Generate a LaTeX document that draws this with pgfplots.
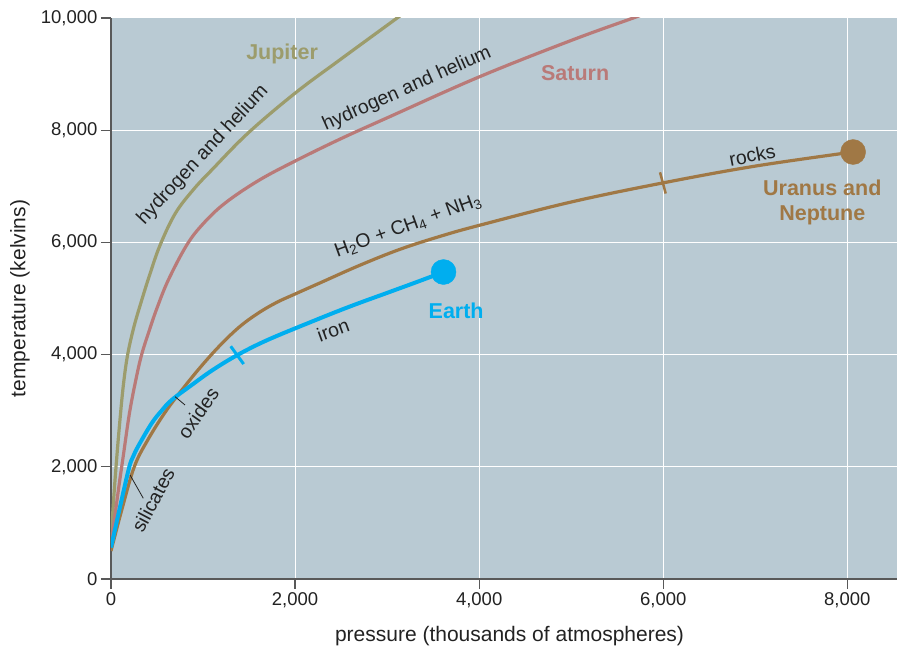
\documentclass[border=0pt]{standalone}
\usepackage{fontspec}
\setmainfont{Liberation Sans}
\usepackage{pgfplots}
\pgfplotsset{compat=1.18}
\definecolor{bgc}{HTML}{B9CAD3}
\definecolor{jup}{HTML}{9C9C6C}
\definecolor{sat}{HTML}{B97A78}
\definecolor{ura}{HTML}{A07845}
\definecolor{ear}{HTML}{00AEEF}
\definecolor{txt}{HTML}{222222}
\begin{document}
\begin{tikzpicture}
\path (-111pt,-71pt) rectangle (791pt,579pt);
\begin{axis}[
 at={(0,0)}, anchor=south west,
 scale only axis, width=786pt, height=561pt,
 xmin=0, xmax=8540, ymin=0, ymax=10000,
 axis x line*=bottom, axis y line*=left,
 axis line style={-, draw=black!65, line width=1.2pt},
 xtick={0,2000,4000,6000,8000}, ytick={0,2000,4000,6000,8000,10000},
 tick align=outside, major tick length=10pt,
 tick style={draw=black!65, line width=1.2pt},
 grid=major, major grid style={white, line width=1pt},
 axis background/.style={fill=bgc},
 /pgf/number format/assume math mode=true,
 /pgf/number format/1000 sep={,},
 scaled ticks=false,
 ticklabel style={font=\fontsize{18.5}{20}\selectfont, text=txt},
 every axis x label/.style={at={(axis description cs:0.507,-0.1016)}, anchor=center},
 every axis y label/.style={at={(axis description cs:-0.1158,0.5)}, rotate=90, anchor=center},
 label style={font=\fontsize{21}{24}\selectfont, text=txt},
 xlabel={pressure (thousands of atmospheres)},
 ylabel={temperature (kelvins)},
]
% Jupiter
\addplot[jup, line width=3.2pt, smooth, tension=0.6] coordinates {
 (0,600)(20,1200)(50,1900)(90,2700)(134,3450)(181,4000)(250,4500)(330,4950)(420,5420)(533,5950)(700,6520)(900,6950)(1100,7300)(1490,7950)(2000,8660)(2500,9270)(3109,10000)(3200,10110)};
% Saturn
\addplot[sat, line width=3.2pt, smooth, tension=0.6] coordinates {
 (0,640)(40,1100)(90,1700)(134,2200)(200,2950)(270,3550)(333,4000)(420,4450)(500,4830)(623,5330)(822,5950)(1000,6330)(1239,6700)(1600,7100)(2000,7450)(2500,7850)(3000,8220)(4000,8950)(5000,9600)(5674,10000)(5800,10075)};
% Uranus and Neptune
\addplot[ura, line width=3.2pt, smooth, tension=0.6] coordinates {
 (0,500)(120,1250)(253,2000)(400,2480)(600,3000)(804,3440)(1000,3830)(1200,4190)(1400,4500)(1600,4740)(1800,4930)(2000,5080)(2274,5280)(2700,5590)(3145,5880)(3600,6120)(4015,6310)(5000,6720)(5996,7060)(7000,7360)(8063,7611)};
% Earth
\addplot[ear, line width=4pt, smooth, tension=0.6] coordinates {
 (0,560)(100,1300)(196,1980)(240,2180)(300,2380)(442,2775)(550,3000)(659,3190)(877,3458)(1100,3720)(1371,3990)(1700,4260)(2200,4600)(2600,4860)(3000,5100)(3300,5280)(3613,5472)};
% end dots
\addplot[only marks, mark=*, mark size=12.5pt, ura, mark options={draw=none, fill=ura}] coordinates {(8063,7611)};
\addplot[only marks, mark=*, mark size=12.5pt, ear, mark options={draw=none, fill=ear}] coordinates {(3613,5472)};
% transition ticks
\addplot[only marks, mark=|, mark size=11pt, ura, mark options={rotate=15, line width=2.5pt}] coordinates {(5996,7060)};
\addplot[only marks, mark=|, mark size=11pt, ear, mark options={rotate=36, line width=3pt}] coordinates {(1371,3990)};
% leader lines
\addplot[txt, line width=0.8pt] coordinates {(207,1854)(351,1438)};
\addplot[txt, line width=0.8pt] coordinates {(696,3250)(804,3102)};
% labels
\node[font=\bfseries\fontsize{21.5}{24}\selectfont, text=jup] at (axis cs:1859,9358) {Jupiter};
\node[font=\bfseries\fontsize{21.5}{24}\selectfont, text=sat] at (axis cs:5043,9020) {Saturn};
\node[font=\bfseries\fontsize{21.5}{25}\selectfont, text=ura, align=center] at (axis cs:7728,6720) {Uranus and\\Neptune};
\node[font=\bfseries\fontsize{21.5}{24}\selectfont, text=ear] at (axis cs:3750,4777) {Earth};
\node[font=\fontsize{19.5}{22}\selectfont, text=txt, rotate=47] at (axis cs:1000,7558) {hydrogen and helium};
\node[font=\fontsize{19.5}{22}\selectfont, text=txt, rotate=24] at (axis cs:3217,8734) {hydrogen and helium};
\node[font=\fontsize{19.5}{22}\selectfont, text=txt, rotate=20] at (axis cs:3228,6292) {H\textsubscript{2}O + CH\textsubscript{4} + NH\textsubscript{3}};
\node[font=\fontsize{19.5}{22}\selectfont, text=txt, rotate=20] at (axis cs:2413,4439) {iron};
\node[font=\fontsize{19.5}{22}\selectfont, text=txt, rotate=11] at (axis cs:6967,7558) {rocks};
\node[font=\fontsize{19.5}{22}\selectfont, text=txt, rotate=55] at (axis cs:946,2959) {oxides};
\node[font=\fontsize{19.5}{22}\selectfont, text=txt, rotate=62] at (axis cs:457,1408) {silicates};
\end{axis}
\end{tikzpicture}
\end{document}
